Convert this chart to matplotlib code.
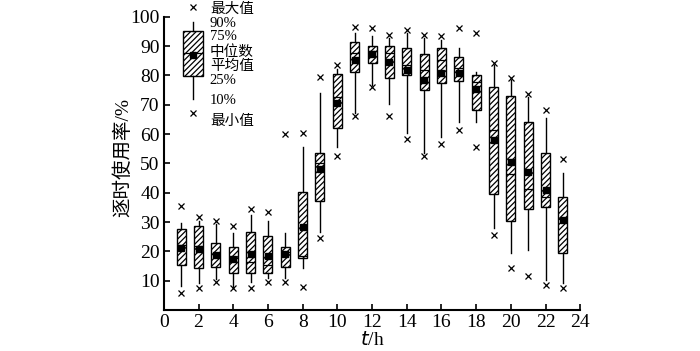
import matplotlib
matplotlib.use("Agg")
import matplotlib.pyplot as plt

plt.rcParams['font.family'] = ['Liberation Serif', 'Noto Sans CJK SC']
plt.rcParams['hatch.linewidth'] = 0.9

# hourly usage rate stats (%)
hours = list(range(1, 24))
q1 = [15.4, 14.3, 14.7, 12.6, 12.6, 12.6, 14.7, 17.7, 37.2, 62.1, 81.2, 84.3,
      79.2, 80.2, 75.1, 77.5, 78.2, 68.3, 39.6, 30.4, 34.5, 35.2, 19.5]
q3 = [27.6, 28.7, 22.9, 21.5, 26.6, 25.3, 21.5, 40.3, 53.6, 80.5, 91.5, 90.1,
      90.1, 89.4, 87.4, 89.4, 86.3, 80.2, 76.1, 73.0, 64.2, 53.6, 38.6]
med = [22.2, 21.8, 19.1, 17.6, 16.4, 15.4, 19.8, 18.4, 50.2, 72.7, 87.7, 88.4,
       87.7, 83.6, 81.9, 85.3, 82.6, 77.8, 61.4, 46.4, 41.3, 38.6, 31.1]
mean = [21.2, 20.8, 18.8, 17.4, 19.1, 18.4, 19.1, 28.3, 48.1, 70.6, 85.3, 87.4,
        84.6, 81.9, 78.5, 80.9, 80.9, 75.4, 58.0, 50.5, 47.1, 41.0, 30.7]
p90 = [29.7, 30.4, 29.4, 26.3, 32.4, 30.4, 26.3, 55.6, 74.0, 82.3, 94.5, 93.5,
       92.8, 94.5, 92.8, 92.2, 89.4, 81.2, 83.6, 78.5, 72.7, 65.5, 46.8]
p10 = [8.2, 9.2, 10.6, 7.8, 9.6, 10.9, 10.9, 14.3, 26.6, 55.6, 67.2, 76.8,
       70.3, 60.4, 53.6, 59.0, 64.2, 64.2, 28.0, 19.5, 20.5, 10.2, 9.2]
vmax = [35.5, 31.7, 30.4, 28.7, 34.5, 33.4, 60.0, 60.4, 79.5, 83.6, 96.6, 96.2,
        93.9, 95.6, 93.9, 93.5, 96.2, 94.5, 84.3, 79.2, 73.7, 68.3, 51.5]
vmin = [5.8, 7.5, 9.6, 7.5, 7.5, 9.6, 9.6, 7.8, 24.6, 52.6, 66.2, 76.1,
        66.2, 58.4, 52.6, 56.7, 61.4, 55.6, 25.6, 14.3, 11.6, 8.5, 7.5]

# legend sample box
leg_stats = dict(q1=79.9, q3=95.2, med=87.7, mean=87.0, p10=72.0, p90=98.3,
                 vmin=67.2, vmax=103.4)
leg_labels = ['最大值', '90%', '75%', '中位数', '平均值', '25%', '10%', '最小值']
leg_label_y = [102.6, 97.7, 93.2, 88.0, 83.0, 78.3, 71.3, 64.4]

fig = plt.figure(figsize=(7.0, 3.51), dpi=100)
ax = fig.add_axes([0.234, 0.117, 0.595, 0.835])


def make_stat(a, b, m, mn, lo, hi, mi, ma):
    return dict(q1=a, q3=b, med=m, mean=mn, whislo=lo, whishi=hi,
                fliers=[mi, ma])


stats = [make_stat(q1[i], q3[i], med[i], mean[i], p10[i], p90[i], vmin[i], vmax[i])
         for i in range(len(hours))]

style = dict(
    patch_artist=True, showmeans=True, showcaps=False, showfliers=True,
    manage_ticks=False,
    boxprops=dict(facecolor='white', edgecolor='black', linewidth=1.0, hatch='//////'),
    medianprops=dict(color='black', linewidth=0.9),
    whiskerprops=dict(color='black', linewidth=1.0),
    meanprops=dict(marker='s', markerfacecolor='black', markeredgecolor='black',
                   markersize=4),
    flierprops=dict(marker='x', markeredgecolor='black', markersize=4,
                    markeredgewidth=0.9),
)

ax.bxp(stats, positions=hours, widths=0.52, **style)

ls = leg_stats
leg = ax.bxp([make_stat(ls['q1'], ls['q3'], ls['med'], ls['mean'], ls['p10'],
                        ls['p90'], ls['vmin'], ls['vmax'])],
             positions=[1.67], widths=1.15, **style)
for key in leg:
    for art in leg[key]:
        art.set_clip_on(False)

for lab, y in zip(leg_labels, leg_label_y):
    ax.text(2.65, y, lab, fontsize=10.5, va='center', ha='left')

ax.set_xlim(0, 24)
ax.set_ylim(0, 100)
ax.set_xticks(range(0, 25, 2))
ax.set_yticks(range(10, 101, 10))
ax.tick_params(direction='in', length=4, width=1.2, labelsize=14, pad=3)
for s in ['top', 'right']:
    ax.spines[s].set_visible(False)
for s in ['left', 'bottom']:
    ax.spines[s].set_linewidth(1.5)

ax.set_xlabel('$\\it{t}$/h', fontsize=14, labelpad=0)
ax.set_ylabel('逐时使用率/%', fontsize=14)
ax.yaxis.set_label_coords(-0.075, 0.52)

fig.savefig('out.png', dpi=100)
